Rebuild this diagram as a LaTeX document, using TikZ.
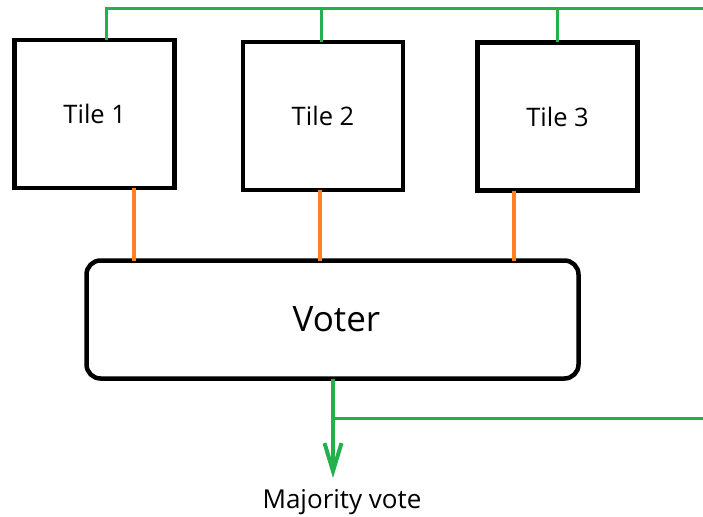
\documentclass[tikz,border=0pt]{standalone}
\usepackage{fontspec}
\setmainfont{Open Sans}
\usetikzlibrary{arrows.meta}

\definecolor{busgreen}{RGB}{34,177,76}
\definecolor{linkorange}{RGB}{255,127,39}

\tikzset{
  tilebox/.style={draw=black, line width=4.7pt, minimum width=160pt, minimum height=148pt,
    inner sep=0pt, outer sep=0pt, font=\fontsize{25.5}{28}\selectfont},
  voterbox/.style={draw=black, line width=4.5pt, rounded corners=14pt, minimum width=492pt,
    minimum height=118pt, inner sep=0pt, outer sep=0pt, font=\fontsize{35}{40}\selectfont},
  linkwire/.style={draw=linkorange, line width=4pt},
  buswire/.style={draw=busgreen, line width=3pt},
  outwire/.style={draw=busgreen, line width=4pt, -{Straight Barb[length=28pt,width=17pt]}},
  caption/.style={font=\fontsize{26}{29}\selectfont, inner sep=0pt},
}

\begin{document}
\begin{tikzpicture}[x=1pt, y=-1pt]
  \useasboundingbox (0,0) rectangle (703,516);

  % processing tiles
  \node[tilebox] (t1) at (94.75,114) {\raisebox{-2pt}{Tile 1}};
  \node[tilebox] (t2) at (323,116) {\raisebox{-2pt}{Tile 2}};
  \node[tilebox] (t3) at (557.5,116.5) {\raisebox{-2pt}{Tile 3}};

  % majority voter
  \node[voterbox] (voter) at (332.5,319.5) {\hspace{8pt}Voter};

  % output label
  \node[caption, anchor=base] (mv) at (342,508) {Majority vote};

  % tap points
  \coordinate (g1) at (106,9);
  \coordinate (g2) at (321,9);
  \coordinate (g3) at (557,9);
  \coordinate (gR) at (703,9);
  \coordinate (o1) at (134,0);
  \coordinate (o2) at (320,0);
  \coordinate (o3) at (514,0);
  \coordinate (tip) at (333,478);
  \coordinate (br) at (333,418);
  \coordinate (brR) at (703,418);

  % shared input bus on top
  \draw[buswire] (t1.north -| g1) -- (g1) -- (gR);
  \draw[buswire] (t2.north -| g2) -- (g2);
  \draw[buswire] (t3.north -| g3) -- (g3);

  % tile outputs into the voter
  \draw[linkwire] (t1.south -| o1) -- (voter.north -| o1);
  \draw[linkwire] (t2.south -| o2) -- (voter.north -| o2);
  \draw[linkwire] (t3.south -| o3) -- (voter.north -| o3);

  % voter output and feedback branch
  \draw[outwire] (voter.south -| tip) -- (tip);
  \draw[buswire] (br) -- (brR);
\end{tikzpicture}
\end{document}
